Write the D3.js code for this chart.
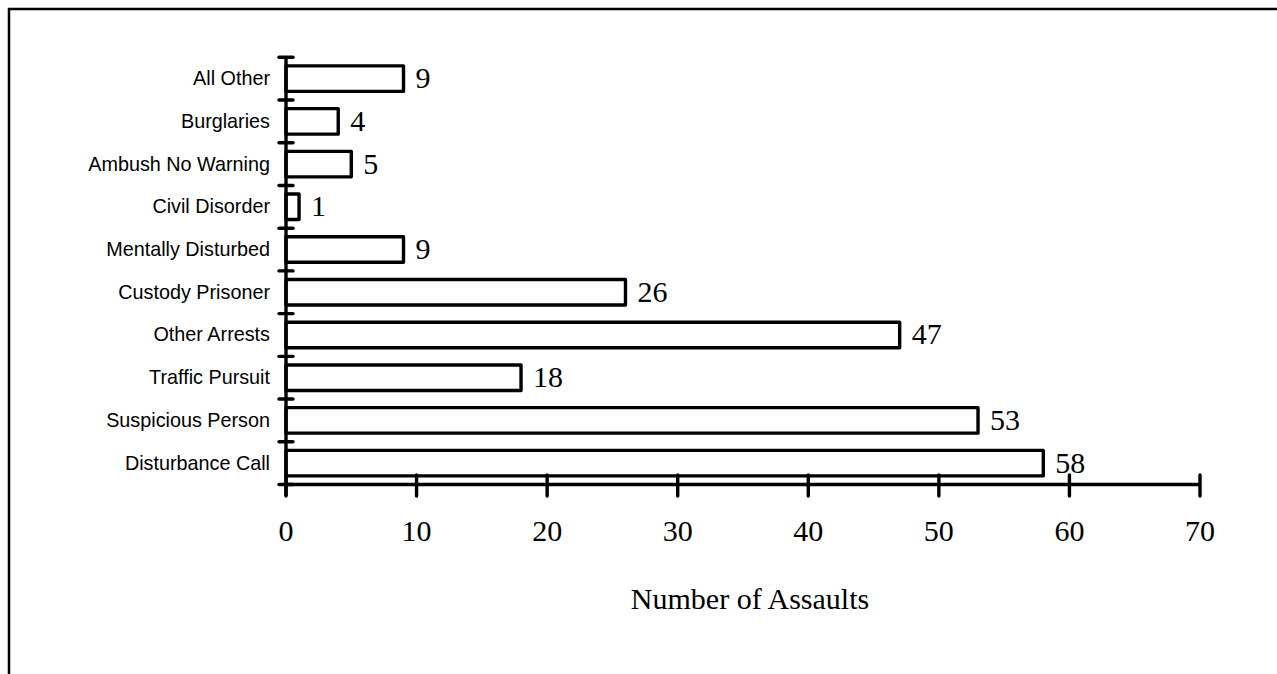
<!DOCTYPE html>
<html>
<head>
<meta charset="utf-8">
<script src="https://cdn.jsdelivr.net/npm/d3@7"></script>
<style>
  html, body { margin: 0; padding: 0; background: #fff; }
  svg { display: block; }
</style>
</head>
<body>
<svg id="chart" width="1277" height="674"></svg>
<script>
const categories = ["All Other", "Burglaries", "Ambush No Warning", "Civil Disorder", "Mentally Disturbed",
  "Custody Prisoner", "Other Arrests", "Traffic Pursuit", "Suspicious Person", "Disturbance Call"];
const values = [9, 4, 5, 1, 9, 26, 47, 18, 53, 58];
const xTicks = [0, 10, 20, 30, 40, 50, 60, 70];
const xTitle = "Number of Assaults";

(function () {
const svg = d3.select("#chart");
const serif = "'Liberation Serif', 'Times New Roman', serif";
const sans = "'Liberation Sans', Arial, sans-serif";

// outer frame (extends past the right and bottom edges)
svg.append("rect")
  .attr("x", 9).attr("y", 9).attr("width", 1400).attr("height", 800)
  .attr("fill", "none").attr("stroke", "#000").attr("stroke-width", 2.5);

const pLeft = 286, pRight = 1200, pTop = 57.3, pBottom = 484.5;

const x = d3.scaleLinear().domain([0, 70]).range([pLeft, pRight]);
const y = d3.scaleBand().domain(categories).range([pTop, pBottom]).paddingInner(0).paddingOuter(0);

const barH = 25.5;

// bars
svg.selectAll("rect.bar").data(categories).enter().append("rect")
  .attr("class", "bar")
  .attr("x", x(0))
  .attr("y", d => y(d) + y.bandwidth() / 2 - barH / 2)
  .attr("width", (d, i) => x(values[i]) - x(0))
  .attr("height", barH)
  .attr("fill", "#fff")
  .attr("stroke", "#000")
  .attr("stroke-width", 3.4)
  .attr("stroke-linejoin", "round");

// value labels
svg.selectAll("text.val").data(categories).enter().append("text")
  .attr("class", "val")
  .attr("x", (d, i) => x(values[i]) + 12)
  .attr("y", d => y(d) + y.bandwidth() / 2 + 9.5)
  .attr("font-family", serif)
  .attr("font-size", 30)
  .text((d, i) => values[i]);

// y axis line
svg.append("line")
  .attr("x1", pLeft).attr("x2", pLeft).attr("y1", pTop).attr("y2", 496)
  .attr("stroke", "#000").attr("stroke-width", 3.4);

// y ticks at band boundaries
const bounds = categories.map(c => y(c)).concat([pBottom]);
svg.selectAll("line.ytick").data(bounds).enter().append("line")
  .attr("class", "ytick")
  .attr("x1", pLeft - 7).attr("x2", pLeft + 7)
  .attr("y1", d => d).attr("y2", d => d)
  .attr("stroke", "#000").attr("stroke-width", 3.4).attr("stroke-linecap", "round");

// category labels
svg.selectAll("text.cat").data(categories).enter().append("text")
  .attr("class", "cat")
  .attr("x", 270)
  .attr("y", d => y(d) + y.bandwidth() / 2 + 6.5)
  .attr("text-anchor", "end")
  .attr("font-family", sans)
  .attr("font-size", 19.8)
  .text(d => d);

// x axis line
svg.append("line")
  .attr("x1", pLeft).attr("x2", pRight).attr("y1", pBottom).attr("y2", pBottom)
  .attr("stroke", "#000").attr("stroke-width", 3.4);

// x ticks
svg.selectAll("line.xtick").data(xTicks).enter().append("line")
  .attr("class", "xtick")
  .attr("x1", d => x(d)).attr("x2", d => x(d))
  .attr("y1", 475).attr("y2", 496)
  .attr("stroke", "#000").attr("stroke-width", 3.4).attr("stroke-linecap", "round");

svg.selectAll("text.xlab").data(xTicks).enter().append("text")
  .attr("class", "xlab")
  .attr("x", d => x(d))
  .attr("y", 541)
  .attr("text-anchor", "middle")
  .attr("font-family", serif)
  .attr("font-size", 30)
  .text(d => d);

svg.append("text")
  .attr("x", 750).attr("y", 609)
  .attr("text-anchor", "middle")
  .attr("font-family", serif)
  .attr("font-size", 30)
  .text(xTitle);
})();
</script>
</body>
</html>
